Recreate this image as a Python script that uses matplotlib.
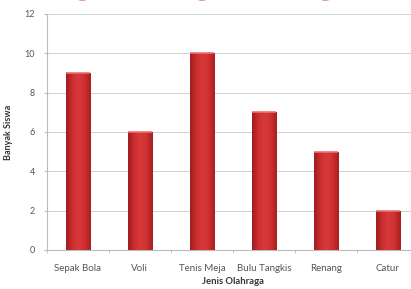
import matplotlib
matplotlib.use("Agg")
import matplotlib.pyplot as plt
import numpy as np
from matplotlib.colors import LinearSegmentedColormap

categories = ["Sepak Bola", "Voli", "Tenis Meja", "Bulu Tangkis", "Renang", "Catur"]
values = [9, 6, 10, 7, 5, 2]
yticks = [0, 2, 4, 6, 8, 10, 12]

plt.rcParams['font.family'] = ['Lato', 'DejaVu Sans']

fig = plt.figure(figsize=(4.11, 2.89), dpi=100)
ax = fig.add_axes([0.114, 0.135, 0.905, 0.817])

x = np.arange(len(categories))
bars = ax.bar(x, values, width=0.39, color="#c8262b", edgecolor="#8e1418", linewidth=0.6, zorder=3)

cmap = LinearSegmentedColormap.from_list("cyl", ["#a01c20", "#cc2e30", "#d8393a", "#cf3132", "#a81d20"])
grad = np.linspace(0, 1, 64).reshape(1, -1)
for b in bars:
    x0, y0 = b.get_x(), b.get_y()
    w, h = b.get_width(), b.get_height()
    im = ax.imshow(grad, cmap=cmap, aspect="auto", extent=[x0, x0 + w, y0, y0 + h], zorder=3.5)
    im.set_clip_path(b)
    ax.plot([x0, x0 + w], [y0 + h, y0 + h], color="#ee7070", lw=1.2, zorder=4, solid_capstyle="butt")

ax.set_xlim(-0.5, len(categories) - 0.5)
ax.set_ylim(0, 12)
ax.set_yticks(yticks)
ax.set_xticks(x)
ax.set_xticklabels(categories)
ax.set_xticks(np.arange(-0.5, len(categories), 1), minor=True)
ax.tick_params(axis="x", which="major", length=0, labelsize=7, colors="#555555", pad=10)
ax.tick_params(axis="x", which="minor", length=2.5, color="#bbbbbb")
ax.tick_params(axis="y", length=2.5, color="#bbbbbb", labelsize=6.5, labelcolor="#555555", pad=6)
ax.grid(axis="y", color="#d0d0d0", lw=0.7, zorder=0)
for s in ["top", "right"]:
    ax.spines[s].set_visible(False)
ax.spines["left"].set_color("#bbbbbb")
ax.spines["bottom"].set_color("#bbbbbb")
ax.set_ylabel("Banyak Siswa", fontsize=6.5, fontweight="bold", color="#333333", labelpad=8)
ax.set_xlabel("Jenis Olahraga", fontsize=6.8, fontweight="bold", color="#333333", labelpad=3)

fig.text(0.5, 1.027, "Olahraga yang Paling Sering", ha="center", va="baseline", fontsize=30,
         fontweight="bold", color="#c8262b")

fig.savefig("out.png", dpi=100)
